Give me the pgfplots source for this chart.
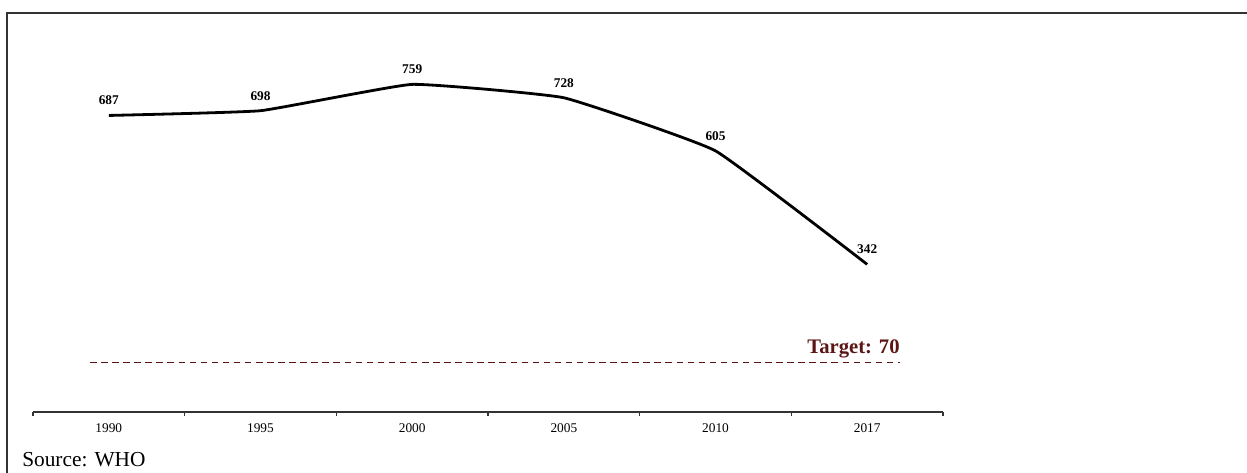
\documentclass[border=0pt]{standalone}
\usepackage{pgfplots}
\pgfplotsset{compat=1.18}
\usepackage{fontspec}
\setmainfont{Liberation Serif}
\definecolor{targetred}{HTML}{5C1616}
\definecolor{axisgray}{HTML}{333333}

\begin{document}
\begin{tikzpicture}
  % frame (top and left sides only, as in the source)
  \draw[line width=1.5pt, color=axisgray] (5.25pt,0pt) -- (5.25pt,345pt) -- (935.25pt,345pt);

  \begin{axis}[
    at={(24.75pt,45.75pt)}, anchor=south west,
    scale only axis,
    width=682.5pt, height=286.5pt,
    xmin=-0.5, xmax=5.5,
    ymin=0, ymax=885,
    axis x line=bottom,
    axis y line=none,
    axis line style={axisgray, line width=0.8pt, -},
    xtick={0,1,2,3,4,5},
    xticklabels={1990,1995,2000,2005,2010,2017},
    major tick length=0pt,
    minor xtick={-0.5,0.5,1.5,2.5,3.5,4.5,5.5},
    minor tick length=3pt,
    minor tick style={axisgray, line width=0.8pt},
    xtick pos=bottom,
    tick align=outside,
    x tick label style={font=\fontsize{10}{12}\selectfont, yshift=-5.5pt},
    /pgf/number format/assume math mode=true,
    clip=false,
  ]
    \addplot[black, line width=2.1pt, smooth, tension=0.2,
      nodes near coords,
      point meta=explicit symbolic,
      every node near coord/.append style={font=\fontsize{10}{12}\selectfont\bfseries, anchor=south, yshift=3.5pt}]
      table[meta=label] {
        x   y    label
        0   687  687
        1   698  698
        2   759  759
        3   728  728
        4   605  605
        5   342  342
      };
    \addplot[targetred, line width=0.9pt, dash pattern=on 4.9pt off 3.4pt]
      coordinates {(-0.124,115) (5.216,115)};
    \node[anchor=south east, inner sep=0pt, text=targetred,
      font=\fontsize{15.5}{18}\selectfont\bfseries]
      at (axis cs:5.216,115) [yshift=3pt] {Target: 70};
  \end{axis}

  \node[anchor=base west, inner sep=0pt, font=\fontsize{16}{19}\selectfont]
    at (16.5pt,4.5pt) {Source: WHO};

  \pgfresetboundingbox
  \path (0pt,0pt) rectangle (935.25pt,354.75pt);
\end{tikzpicture}
\end{document}
